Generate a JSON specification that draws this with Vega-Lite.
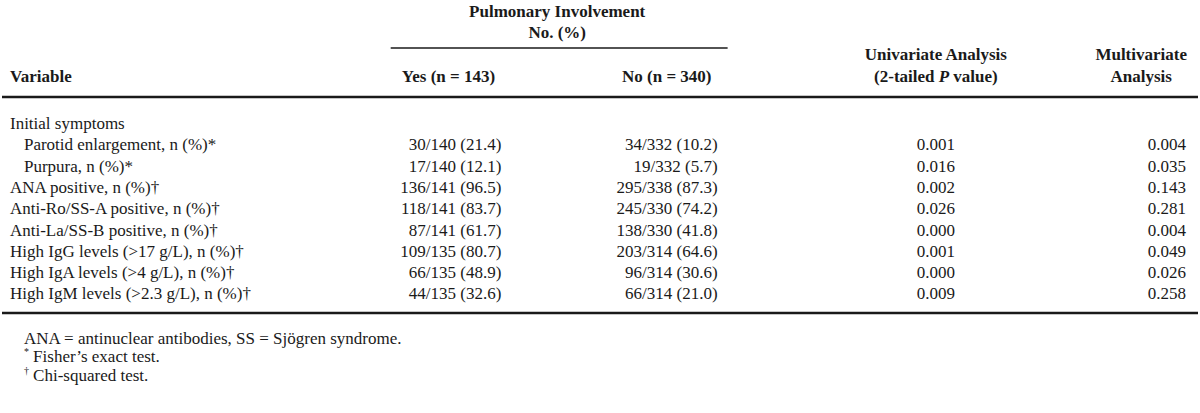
{
  "$schema": "https://vega.github.io/schema/vega-lite/v6.json",
  "width": 1200,
  "height": 413,
  "autosize": {"type": "fit", "contains": "padding"},
  "padding": 0,
  "background": "white",
  "config": {
    "view": {"stroke": null},
    "text": {"font": "Liberation Serif", "fontSize": 17, "color": "#1a1a1a", "baseline": "middle"},
    "rule": {"color": "#1a1a1a"}
  },
  "datasets": {
    "body": [
      {"r": 0, "level": 0, "variable": "Initial symptoms", "yes": "", "no": "", "uni": "", "multi": ""},
      {"r": 1, "level": 1, "variable": "Parotid enlargement, n (%)*", "yes": "30/140 (21.4)", "no": "34/332 (10.2)", "uni": "0.001", "multi": "0.004"},
      {"r": 2, "level": 1, "variable": "Purpura, n (%)*", "yes": "17/140 (12.1)", "no": "19/332 (5.7)", "uni": "0.016", "multi": "0.035"},
      {"r": 3, "level": 0, "variable": "ANA positive, n (%)†", "yes": "136/141 (96.5)", "no": "295/338 (87.3)", "uni": "0.002", "multi": "0.143"},
      {"r": 4, "level": 0, "variable": "Anti-Ro/SS-A positive, n (%)†", "yes": "118/141 (83.7)", "no": "245/330 (74.2)", "uni": "0.026", "multi": "0.281"},
      {"r": 5, "level": 0, "variable": "Anti-La/SS-B positive, n (%)†", "yes": "87/141 (61.7)", "no": "138/330 (41.8)", "uni": "0.000", "multi": "0.004"},
      {"r": 6, "level": 0, "variable": "High IgG levels (>17 g/L), n (%)†", "yes": "109/135 (80.7)", "no": "203/314 (64.6)", "uni": "0.001", "multi": "0.049"},
      {"r": 7, "level": 0, "variable": "High IgA levels (>4 g/L), n (%)†", "yes": "66/135 (48.9)", "no": "96/314 (30.6)", "uni": "0.000", "multi": "0.026"},
      {"r": 8, "level": 0, "variable": "High IgM levels (>2.3 g/L), n (%)†", "yes": "44/135 (32.6)", "no": "66/314 (21.0)", "uni": "0.009", "multi": "0.258"}
    ],
    "headCenter": [
      {"text": "Pulmonary Involvement", "c": 46.42, "r": -5.258},
      {"text": "No. (%)", "c": 46.42, "r": -4.272},
      {"text": "Yes (n = 143)", "c": 37.33, "r": -2.207},
      {"text": "No (n = 340)", "c": 55.58, "r": -2.207},
      {"text": "Univariate Analysis", "c": 78.08, "r": -3.239},
      {"text": "Multivariate", "c": 95.25, "r": -3.239},
      {"text": "Analysis", "c": 95.25, "r": -2.207}
    ],
    "headLeft": [
      {"text": "Variable", "c": 0.667, "r": -2.207},
      {"text": "value)", "c": 79.54, "r": -2.207}
    ],
    "headRight": [
      {"text": "(2-tailed", "c": 77.97, "r": -2.207}
    ],
    "headItalic": [
      {"text": "P", "c": 78.32, "r": -2.207}
    ],
    "notes": [
      {"text": "ANA = antinuclear antibodies, SS = Sjögren syndrome.", "c": 1.833, "r": 10.094},
      {"text": "Fisher’s exact test.", "c": 2.6, "r": 10.939},
      {"text": "Chi-squared test.", "c": 2.6, "r": 11.831}
    ],
    "noteMarks": [
      {"text": "*", "c": 1.833, "r": 10.70},
      {"text": "†", "c": 1.833, "r": 11.60}
    ],
    "thickRules": [
      {"a": 0, "b": 100, "r": -1.268},
      {"a": 0, "b": 100, "r": 8.873}
    ],
    "thinRules": [
      {"a": 32.5, "b": 60.67, "r": -3.568}
    ]
  },
  "encoding": {
    "y": {"field": "r", "type": "quantitative", "axis": null,
      "scale": {"domain": [-5.822, 13.568], "reverse": true, "nice": false, "zero": false}}
  },
  "layer": [
    {
      "data": {"name": "body"},
      "transform": [{"filter": "datum.level == 0"}],
      "mark": {"type": "text", "align": "left"},
      "encoding": {
        "x": {"datum": 0.667, "type": "quantitative", "axis": null,
          "scale": {"domain": [0, 100], "nice": false, "zero": false}},
        "text": {"field": "variable"}
      }
    },
    {
      "data": {"name": "body"},
      "transform": [{"filter": "datum.level == 1"}],
      "mark": {"type": "text", "align": "left"},
      "encoding": {"x": {"datum": 1.833, "type": "quantitative"}, "text": {"field": "variable"}}
    },
    {
      "data": {"name": "body"},
      "mark": {"type": "text", "align": "right"},
      "encoding": {"x": {"datum": 41.75, "type": "quantitative"}, "text": {"field": "yes"}}
    },
    {
      "data": {"name": "body"},
      "mark": {"type": "text", "align": "right"},
      "encoding": {"x": {"datum": 59.83, "type": "quantitative"}, "text": {"field": "no"}}
    },
    {
      "data": {"name": "body"},
      "mark": {"type": "text", "align": "center"},
      "encoding": {"x": {"datum": 78.08, "type": "quantitative"}, "text": {"field": "uni"}}
    },
    {
      "data": {"name": "body"},
      "mark": {"type": "text", "align": "right"},
      "encoding": {"x": {"datum": 99.0, "type": "quantitative"}, "text": {"field": "multi"}}
    },
    {
      "data": {"name": "headCenter"},
      "mark": {"type": "text", "align": "center", "fontWeight": "bold"},
      "encoding": {"x": {"field": "c", "type": "quantitative"}, "text": {"field": "text"}}
    },
    {
      "data": {"name": "headLeft"},
      "mark": {"type": "text", "align": "left", "fontWeight": "bold"},
      "encoding": {"x": {"field": "c", "type": "quantitative"}, "text": {"field": "text"}}
    },
    {
      "data": {"name": "headRight"},
      "mark": {"type": "text", "align": "right", "fontWeight": "bold"},
      "encoding": {"x": {"field": "c", "type": "quantitative"}, "text": {"field": "text"}}
    },
    {
      "data": {"name": "headItalic"},
      "mark": {"type": "text", "align": "left", "fontWeight": "bold", "fontStyle": "italic"},
      "encoding": {"x": {"field": "c", "type": "quantitative"}, "text": {"field": "text"}}
    },
    {
      "data": {"name": "notes"},
      "mark": {"type": "text", "align": "left"},
      "encoding": {"x": {"field": "c", "type": "quantitative"}, "text": {"field": "text"}}
    },
    {
      "data": {"name": "noteMarks"},
      "mark": {"type": "text", "align": "left", "fontSize": 10},
      "encoding": {"x": {"field": "c", "type": "quantitative"}, "text": {"field": "text"}}
    },
    {
      "data": {"name": "thickRules"},
      "mark": {"type": "rule", "strokeWidth": 2.5},
      "encoding": {"x": {"field": "a", "type": "quantitative"}, "x2": {"field": "b"}}
    },
    {
      "data": {"name": "thinRules"},
      "mark": {"type": "rule", "strokeWidth": 1.5},
      "encoding": {"x": {"field": "a", "type": "quantitative"}, "x2": {"field": "b"}}
    }
  ]
}
